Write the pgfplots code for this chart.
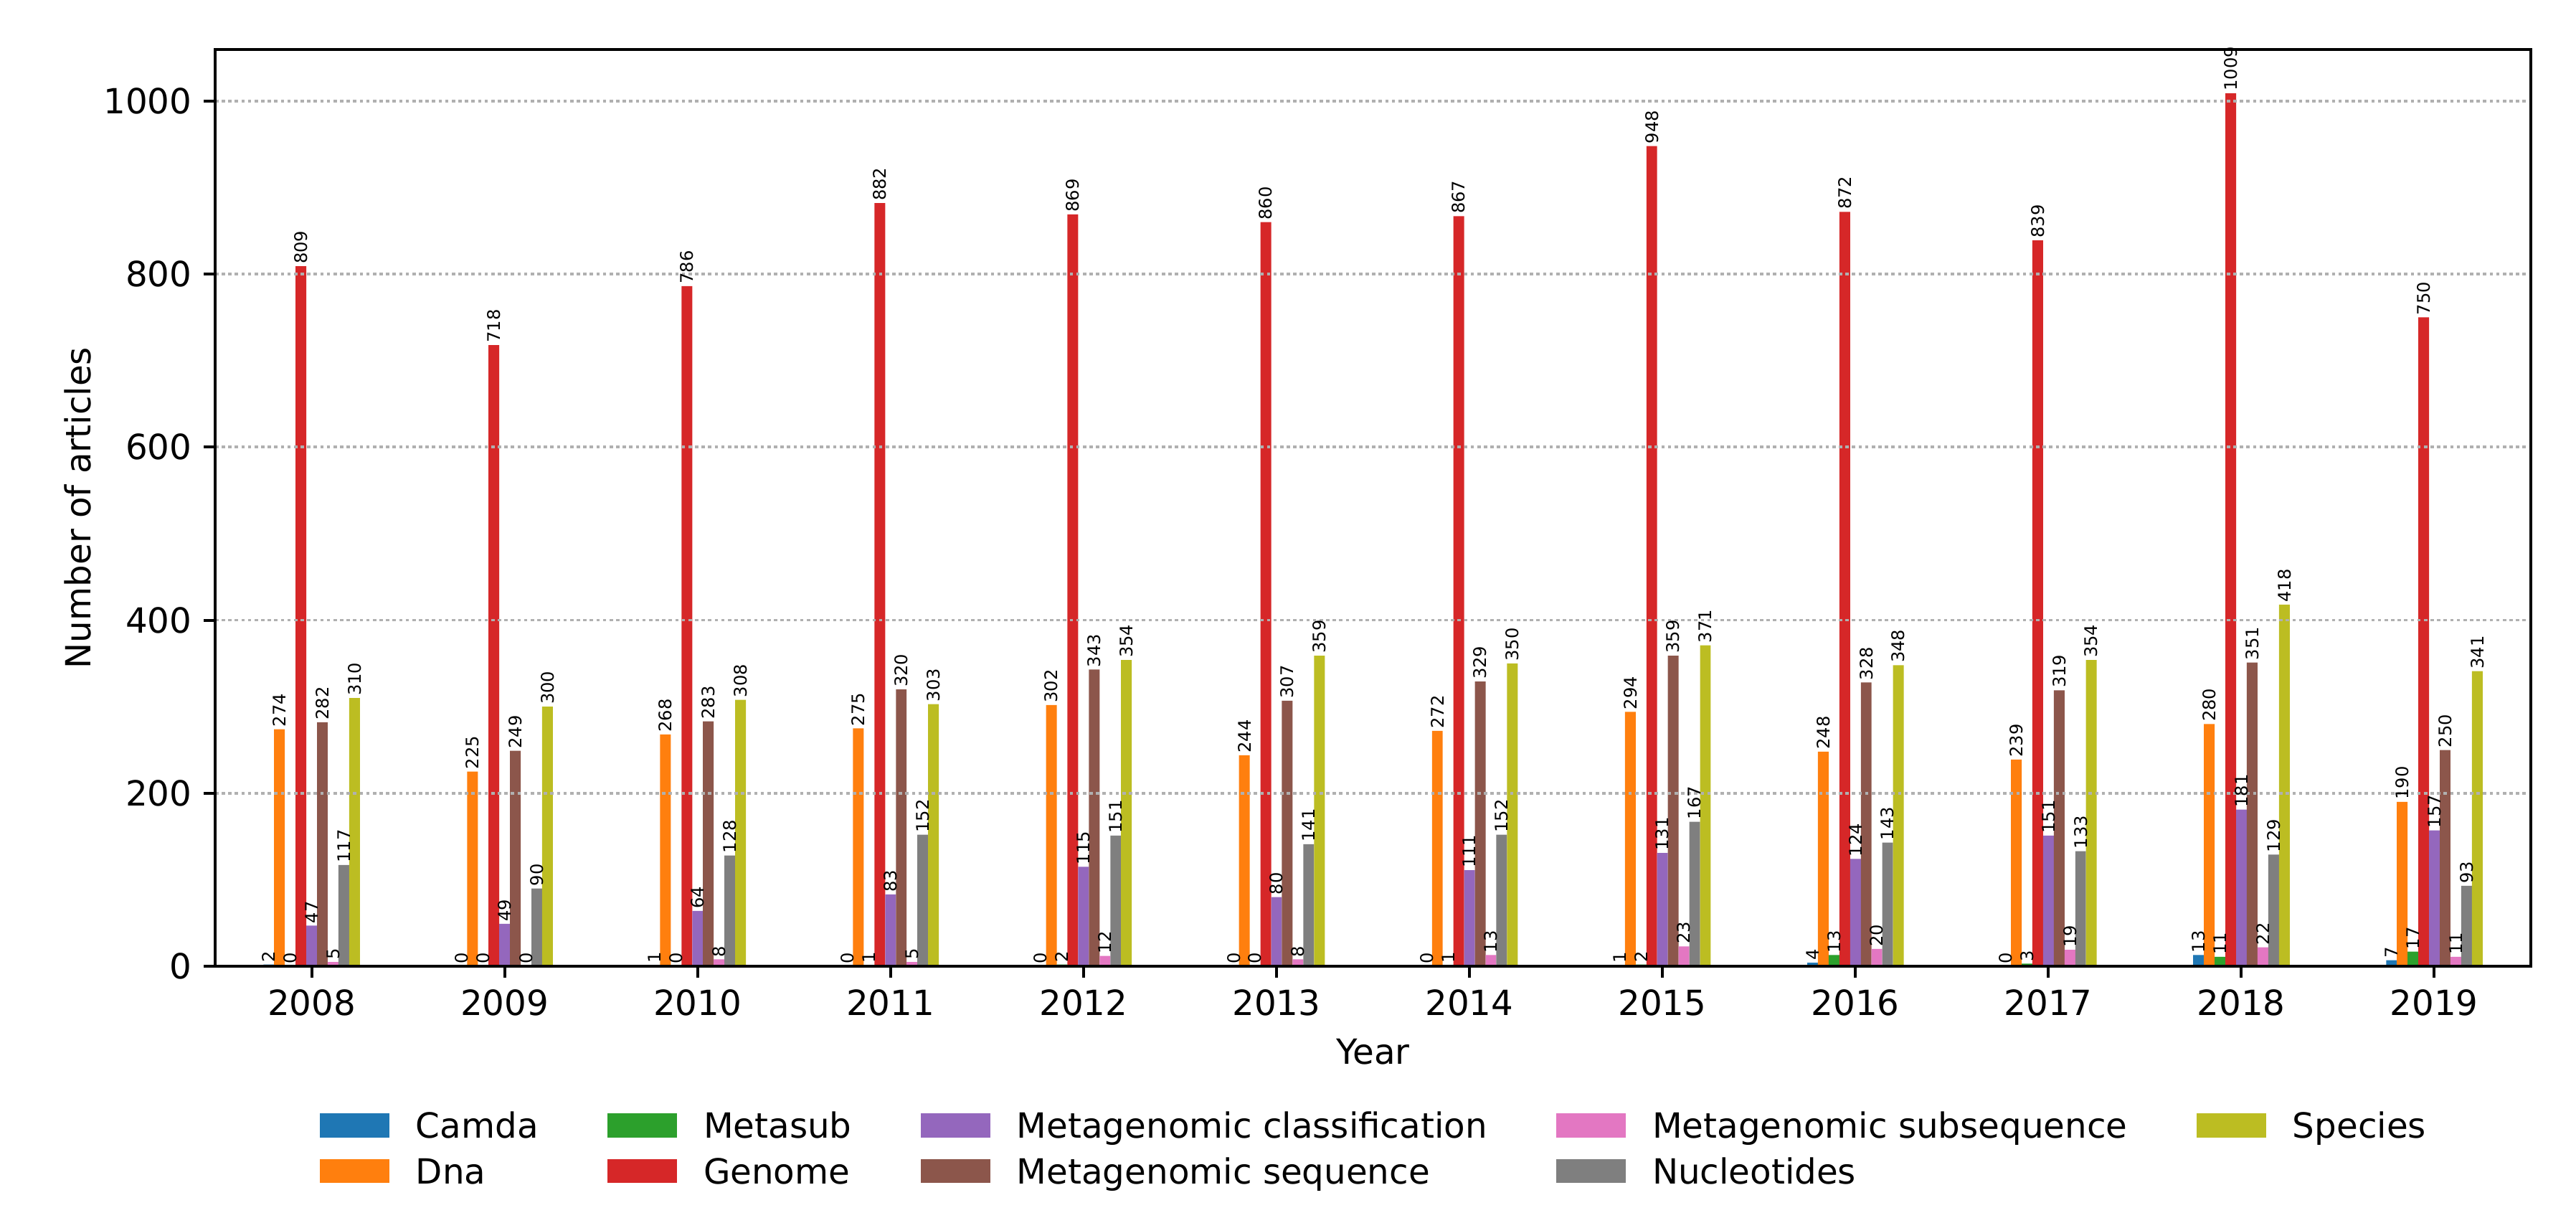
\documentclass[border=0pt]{standalone}
\usepackage{fontspec}
\setmainfont{DejaVu Sans}
\usepackage{pgfplots}
\usepackage{pgfplotstable}
\pgfplotsset{compat=1.18}

% tab10 colours
\definecolor{c0}{HTML}{1F77B4}
\definecolor{c1}{HTML}{FF7F0E}
\definecolor{c2}{HTML}{2CA02C}
\definecolor{c3}{HTML}{D62728}
\definecolor{c4}{HTML}{9467BD}
\definecolor{c5}{HTML}{8C564B}
\definecolor{c6}{HTML}{E377C2}
\definecolor{c7}{HTML}{7F7F7F}
\definecolor{c8}{HTML}{BCBD22}
\definecolor{gridgray}{HTML}{B0B0B0}

\pgfplotstableread{
year camda dna metasub genome mclass mseq msubseq nucl species
2008 2  274 0  809  47  282 5  117 310
2009 0  225 0  718  49  249 0  90  300
2010 1  268 0  786  64  283 8  128 308
2011 0  275 1  882  83  320 5  152 303
2012 0  302 2  869  115 343 12 151 354
2013 0  244 0  860  80  307 8  141 359
2014 0  272 1  867  111 329 13 152 350
2015 1  294 2  948  131 359 23 167 371
2016 4  248 13 872  124 328 20 143 348
2017 0  239 3  839  151 319 19 133 354
2018 13 280 11 1009 181 351 22 129 418
2019 7  190 17 750  157 250 11 93  341
}\counts

% one year = 775pt/12; nine bars share half of it
\pgfplotsset{
  /pgf/number format/1000 sep={},
  /pgf/number format/assume math mode=true,
  ser/.style 2 args={ybar, bar width=3.588pt, bar shift=#2, fill=#1, draw=none,
    forget plot,
    nodes near coords={\rotatebox{90}{\pgfmathprintnumber{\pgfplotspointmeta}}},
    every node near coord/.append style={anchor=south, xshift=#2, inner sep=0.6pt,
      text=black, font=\fontsize{5.8}{6}\selectfont}},
  leg/.style={fill=#1, draw=none},
}

\begin{document}
\fontsize{11.6}{13.9}\selectfont
\begin{tikzpicture}
\begin{axis}[
    name=ax, at={(0,0)}, anchor=south west,
    scale only axis, width=775pt, height=306.7pt,
    xmin=2007.5, xmax=2019.5, ymin=0, ymax=1059.45,
    xtick={2008,2009,...,2019}, ytick={0,200,...,1000},
    tick align=outside, tick pos=left,
    major tick length=3.8pt,
    every tick/.style={black, line width=0.95pt},
    axis line style={line width=0.95pt},
    ymajorgrids,
    grid style={line width=0.9pt, color=gridgray, dash pattern=on 1.1pt off 1.1pt},
    axis on top,
    xlabel={Year}, ylabel={Number of articles},
    xlabel style={at={(axis description cs:0.5,-0.0933)}, anchor=center},
    ylabel style={at={(axis description cs:-0.0594,0.5)}, anchor=center},
    legend style={at={(0.5,-0.1595)}, anchor=north, draw=none, fill=none,
      inner sep=0pt, legend columns=5, row sep=4.3pt,
      /tikz/every even column/.append style={column sep=23.2pt},
      /tikz/every odd column/.append style={column sep=8.9pt},
      nodes={inner sep=0pt, text height=8.45pt, text depth=2.45pt}},
    legend cell align=left,
    legend image code/.code={\fill[#1] (0pt,-2.8pt) rectangle (23.2pt,5.3pt);},
]
\addplot[ser={c0}{-14.352pt}] table[x=year, y=camda]{\counts};
\addplot[ser={c1}{-10.764pt}] table[x=year, y=dna]{\counts};
\addplot[ser={c2}{-7.176pt}]  table[x=year, y=metasub]{\counts};
\addplot[ser={c3}{-3.588pt}]  table[x=year, y=genome]{\counts};
\addplot[ser={c4}{0pt}]       table[x=year, y=mclass]{\counts};
\addplot[ser={c5}{3.588pt}]   table[x=year, y=mseq]{\counts};
\addplot[ser={c6}{7.176pt}]   table[x=year, y=msubseq]{\counts};
\addplot[ser={c7}{10.764pt}]  table[x=year, y=nucl]{\counts};
\addplot[ser={c8}{14.352pt}]  table[x=year, y=species]{\counts};

% legend filled row by row so it reads column by column
\addlegendimage{leg=c0} \addlegendentry{Camda}
\addlegendimage{leg=c2} \addlegendentry{Metasub}
\addlegendimage{leg=c4} \addlegendentry{Metagenomic classification}
\addlegendimage{leg=c6} \addlegendentry{Metagenomic subsequence}
\addlegendimage{leg=c8} \addlegendentry{Species}
\addlegendimage{leg=c1} \addlegendentry{Dna}
\addlegendimage{leg=c3} \addlegendentry{Genome}
\addlegendimage{leg=c5} \addlegendentry{Metagenomic sequence}
\addlegendimage{leg=c7} \addlegendentry{Nucleotides}
\end{axis}
\pgfresetboundingbox
\path (ax.south west) ++(-72pt,-84.2pt) rectangle ++(862.1pt,407.5pt);
\end{tikzpicture}
\end{document}
